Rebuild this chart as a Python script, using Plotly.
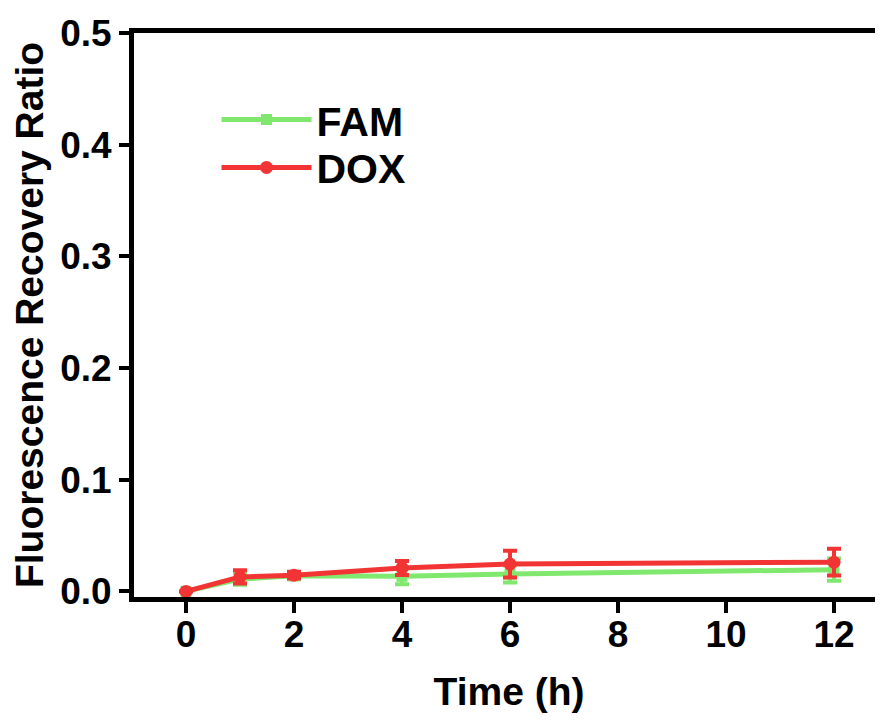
import plotly.graph_objects as go

time_h = [0, 1, 2, 4, 6, 12]
fam_vals = [0.0, 0.011, 0.014, 0.0135, 0.0155, 0.0195]
fam_err = [0.0, 0.005, 0.003, 0.007, 0.0076, 0.0099]
dox_vals = [0.0, 0.013, 0.0145, 0.021, 0.0245, 0.0262]
dox_err = [0.0, 0.006, 0.003, 0.0063, 0.012, 0.012]
x_ticks = [0, 2, 4, 6, 8, 10, 12]
y_ticks = [0.0, 0.1, 0.2, 0.3, 0.4, 0.5]

green = "#80E86E"
red = "#F23434"
font_family = "Liberation Sans, Arial, sans-serif"

fig = go.Figure()
fig.add_trace(go.Scatter(
    x=time_h, y=fam_vals, name="FAM", mode="lines+markers", legend="legend",
    line=dict(color=green, width=5),
    marker=dict(symbol="square", size=11, color=green),
    error_y=dict(type="data", array=fam_err, visible=True, color=green, thickness=4, width=7),
))
fig.add_trace(go.Scatter(
    x=time_h, y=dox_vals, name="DOX", mode="lines+markers", legend="legend2",
    line=dict(color=red, width=5),
    marker=dict(symbol="circle", size=13, color=red),
    error_y=dict(type="data", array=dox_err, visible=True, color=red, thickness=4, width=7),
))

tick_font = dict(family=font_family, size=37, color="black", weight="bold")
title_font = dict(family=font_family, size=39, color="black", weight="bold")
legend_font = dict(family=font_family, size=41, color="black", weight="bold")
fig.update_layout(
    width=876, height=705,
    margin=dict(l=126, r=0, t=25, b=116),
    paper_bgcolor="white", plot_bgcolor="white",
    showlegend=True,
    legend=dict(
        x=0.11, y=0.846, xanchor="left", yanchor="middle",
        font=legend_font, itemwidth=90, bgcolor="rgba(0,0,0,0)",
    ),
    legend2=dict(
        x=0.11, y=0.761, xanchor="left", yanchor="middle",
        font=legend_font, itemwidth=90, bgcolor="rgba(0,0,0,0)",
    ),
    xaxis=dict(
        range=[-0.963, 12.926], tickvals=x_ticks, ticktext=[str(v) for v in x_ticks],
        showline=True, linecolor="black", linewidth=5, mirror=True,
        ticks="outside", ticklen=11, tickwidth=4, tickcolor="black",
        showgrid=False, zeroline=False, tickfont=tick_font, automargin=False,
        ticklabelstandoff=-10,
        title=dict(text="Time (h)", font=title_font, standoff=26),
    ),
    yaxis=dict(
        range=[-0.005, 0.5], tickvals=y_ticks, ticktext=[f"{v:.1f}" for v in y_ticks],
        showline=True, linecolor="black", linewidth=5, mirror=False,
        ticks="outside", ticklen=10, tickwidth=4, tickcolor="black",
        showgrid=False, zeroline=False, tickfont=tick_font, automargin=False,
        title=dict(text="Fluorescence Recovery Ratio", font=title_font, standoff=8),
    ),
)

fig.write_html("out.html")
